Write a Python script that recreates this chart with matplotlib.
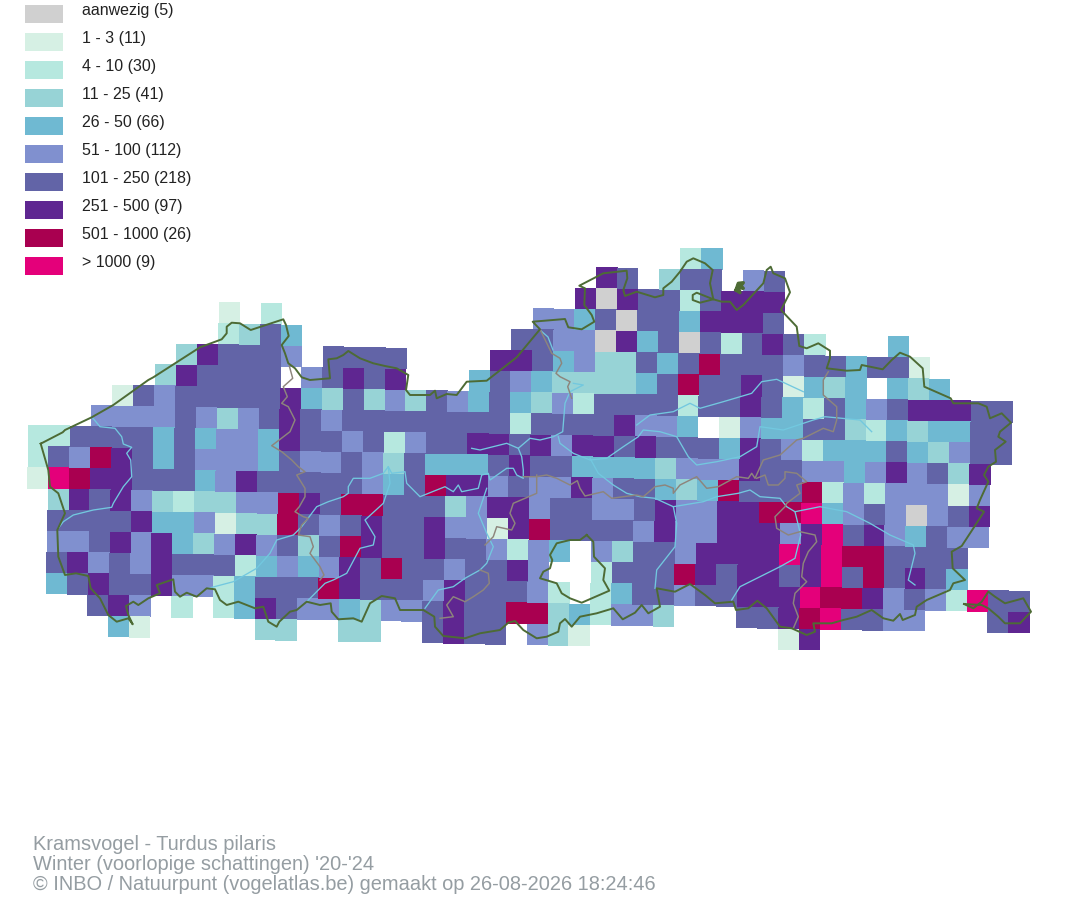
"""Kramsvogel winter atlas map: km-square abundance classes with Flanders outlines."""

import matplotlib

matplotlib.use("Agg")
import matplotlib.pyplot as plt
import numpy as np
from matplotlib.colors import BoundaryNorm, ListedColormap
from matplotlib.patches import Rectangle

plt.rcParams["font.family"] = ["Liberation Sans", "DejaVu Sans"]

CLASS_LABELS = [
    "aanwezig (5)", "1 - 3 (11)", "4 - 10 (30)", "11 - 25 (41)", "26 - 50 (66)",
    "51 - 100 (112)", "101 - 250 (218)", "251 - 500 (97)", "501 - 1000 (26)", "> 1000 (9)",
]
CLASS_COLORS = [
    "#d0d0d0", "#d6f0e4", "#b6e8df", "#97d3d6", "#6fb9d2",
    "#8090cf", "#6264a7", "#5f2691", "#a90050", "#e4007a",
]
CLASS_CODES = "a123456789"

TITLE_LINES = [
    "Kramsvogel - Turdus pilaris",
    "Winter (voorlopige schattingen) '20-'24",
    "© INBO / Natuurpunt (vogelatlas.be) gemaakt op 26-08-2026 18:24:46",
]

# one row per grid line: (first column, class codes), "." = no data
GRID_ROWS = [
    (31, "24"),
    (27, "76.366.56"),
    (26, "7a76626777"),
    (9, "1.2" + "............" + "5546a66" + "47776"),
    (9, "2364" + ".........." + "6655a746a" + "626762" + "..." + "4"),
    (7, "376665.6666" + "...." + "7764533646" + "8666566466" + "1"),
    (6, "376666.56767" + "..." + "4654" + "3333" + "468" + "667" + "6" + "1434" + ".434"),
    (4, "165" + "66666" + "7436" + "35365464352" + "6666" + "2667" + "6426456" + "777" + "66"),
    (3, "5555" + "65356765" + "66666666" + "2" + "6666" + "7" + "55" + "4" + ".1" + "5" + "44" + "66" + "32" + "43" + "44" + "66"),
    (0, "22" + "6666" + "4645547" + "66" + "5625" + "66" + "77" + "675" + "77" + "67" + "666" + "47652" + "444" + "6435" + "66"),
    (0, "26587646" + "555" + "46" + "55" + "6536" + "444" + "67" + "66" + "4444" + "3" + "555" + "7" + "66" + "55" + "45" + "75" + "637"),
    (0, "19877" + "666" + "457" + "66666" + "546" + "8775" + "6557" + "5664" + "348" + "666" + "8252" + "555" + "15"),
    (1, "3767" + "5323" + "3558" + "768" + "8" + "666" + "357" + "7566" + "5567" + "5577" + "889" + "4565" + "a567"),
    (1, "6666" + "7445" + "1338" + "6567" + "667" + "551" + "78" + "6666" + "57" + "55" + "777" + "5796" + "7546" + "55"),
    (1, "5567" + "5743" + "5756" + "36" + "87" + "667" + "665" + "254" + ".53" + "66" + "5" + "7777" + "9798" + "8" + "666" + "6"),
    (1, "6756" + "57" + "666" + "2454" + "576" + "86" + "65" + "667" + "5" + ".." + "26" + "668" + "76" + "776" + "796" + "867" + "64"),
    (1, "4676" + "6755" + "24" + "666" + "87" + "666" + "57" + "666" + "52" + "." + "24" + "66" + "566" + "777" + "988" + "7565" + "29" + "66"),
    (3, "675.2.247655" + "43" + "5567" + "66" + "88" + "342" + "553" + "..." + "66" + "789" + "66" + "55" + "..." + "67"),
    (4, "41" + "....." + "33" + ".." + "33" + ".." + "6766.531" + "........." + "17"),
]

GREEN_MAIN = [
    (40.7, 443.7), (62.7, 432.3), (65, 430), (91.7, 417.3), (113.3, 405), (148.3, 380), (153.3, 377.3),
    (200, 347.3), (221.7, 339.3), (226.7, 333.3), (226.7, 326.7), (231.7, 322.7), (240, 323.3), (250.7, 330),
    (283.3, 319.3), (286, 325), (288.7, 336), (281.7, 345), (285, 353.3), (288.3, 363.3), (295, 368.3),
    (301.7, 377.3), (310, 380), (330, 378.3), (328.3, 359.3), (336.7, 358.3), (343.3, 355), (348.3, 351),
    (360, 358.3), (373.3, 363.3), (385, 366), (396.7, 368.3), (408.3, 375), (406, 390), (410, 395), (430, 395),
    (435, 390.7), (436.7, 398.3), (446.7, 394), (456.7, 395), (466.7, 381.7), (486.7, 380.7), (516.7, 357.3),
    (540, 329.3), (532.7, 321.7), (565, 319), (568.3, 327.3), (581.7, 329.3), (594.3, 321.7), (591.7, 315),
    (584.3, 305), (585, 288.3), (579.3, 285.7), (603.3, 273.3), (626.7, 270.7), (627.3, 278.3), (623.3, 290),
    (625, 296), (636.7, 291.7), (655, 297.3), (663.3, 295), (663.3, 288.3), (671.7, 281.7), (680, 271.7),
    (686.7, 261.7), (693.3, 258.3), (705, 263.3), (712.7, 270), (710, 283.3), (713.3, 299.3), (700, 302.7),
    (692.7, 300), (692.7, 295), (696.7, 292.7), (713.3, 299.3), (721.7, 301.7), (730, 301.7), (736.7, 310),
    (743.3, 305), (763.3, 283.3), (766.7, 270), (770.7, 266.7), (773.3, 273.3), (785, 278.3), (790, 292.3),
    (781, 310), (796.7, 326.7), (799.3, 346), (806.7, 348.3), (818.3, 343.3), (830, 350.7), (830, 358.3),
    (826.7, 368.3), (846.7, 370.7), (860, 370), (861.7, 365), (882.7, 369.3), (891.7, 360), (900, 352.7),
    (910, 356.7), (922.7, 368.3), (924.3, 386.7), (950.7, 398.3), (953.3, 403.3), (978.3, 403.3), (986.7, 406.7),
    (990, 418.3), (1001.7, 413.3), (1011, 422.7), (1000, 431.7), (998.3, 436.7), (1005.7, 441.7), (995, 450),
    (996, 461.7), (988.3, 466.7), (984, 475), (988.3, 481.7), (980, 500), (976.7, 508.3), (984, 511.7),
    (973.3, 528.3), (961.7, 546), (951.7, 551.7), (952.7, 568.3), (965, 580), (953.3, 583.3), (950, 590),
    (926.7, 600), (916.7, 606.7), (915, 615), (902.7, 620), (900, 614), (893.3, 620.7), (883.3, 618.3),
    (871.7, 610), (856.7, 616.7), (843.3, 620), (831.7, 623.3), (813.3, 623.3), (815, 631.7), (806.7, 635),
    (791.7, 628.3), (780, 626.7), (766.7, 608.3), (757.3, 600.7), (748.3, 608.3), (736, 610), (733.3, 601.7),
    (715, 603.3), (705, 595), (690, 584), (675, 591.7), (656.7, 588.3), (660, 606.7), (648.3, 613.3),
    (641.7, 605), (635, 612.7), (622.7, 619.3), (613.3, 608.3), (596.7, 613.3), (580, 616.7), (571.7, 626.7),
    (565, 619), (560, 623.3), (558.3, 631.7), (546.7, 636.7), (536.7, 638.3), (523.3, 630), (515, 621),
    (508.3, 622.7), (500, 630), (480, 633.3), (465, 638.3), (443.3, 636), (435, 626.7), (434.3, 616.7),
    (423.3, 610), (400, 610), (395, 598.3), (381.7, 596), (370, 603.3), (361.7, 621.7), (353.3, 618.3),
    (338.3, 619.3), (331.7, 611.7), (330.7, 603.3), (320, 605), (306.7, 601.7), (296.7, 610), (290, 611.7),
    (279.3, 621.7), (276.7, 626.7), (268.3, 621.7), (263.3, 606.7), (255, 608.3), (238.3, 601.7), (226.7, 605),
    (220, 600), (215, 589.3), (206.7, 588.3), (196.7, 596.7), (186.7, 592.7), (180, 596.7), (175, 591.7),
    (173.3, 579.3), (156.7, 585), (160, 593.3), (148.3, 598.3), (138.3, 605), (133.3, 601.7), (126, 606),
    (128.3, 615), (132.7, 624.3), (128.3, 618.3), (116.7, 621.7), (108.3, 615), (100, 598.3), (90.7, 588.3),
    (88.3, 576), (76, 573.3), (65, 575), (58.3, 556.7), (57.3, 530), (65, 513.3), (58.3, 493.3), (50, 486.7),
    (48.3, 470), (40.7, 443.7),
]
GREEN_BRUSSELS = [
    (586.7, 535), (593.3, 541.7), (594, 556.7), (605, 568.3), (603.3, 580), (609.3, 590.7), (581.7, 602.7),
    (570, 598.3), (561.7, 593.3), (556.7, 583.3), (548.3, 580.7), (540, 578.3), (543.3, 571.7), (550, 568.3),
    (552.3, 560), (550, 555), (556.7, 543.3), (570, 540), (580, 540), (586.7, 535),
]
GREEN_VOEREN = [
    (964, 604), (973.3, 608.3), (981.7, 601.7), (988.3, 591.7), (995, 596.7), (1005, 603.3), (1023.3, 598.3),
    (1031, 611.7), (1020, 623.3), (1005, 623.3), (998.3, 616.7), (988.3, 608.3), (981.7, 605), (964, 604),
]
GREEN_BAARLE = [(736, 290), (738.3, 283.3), (743.3, 282.7), (740, 287), (743.3, 288.3), (738, 286), (740, 292.7), (736, 290)]

PROVINCE_LINES = [
    [(289.3, 366), (292.7, 378.3), (283.3, 386.7), (287.3, 396.7), (281.7, 403.3), (288.3, 406.7), (295, 420),
     (290, 431.7), (271.7, 445.7), (281.7, 451.7), (291.7, 460), (298.3, 466.7), (305, 471.7), (296.7, 475),
     (305, 488.3), (305, 496.7), (299.3, 506.7), (295, 511.7), (303.3, 516.7), (308.3, 518.3), (301.7, 525),
     (298.3, 535), (310, 536.7), (313.3, 546.7), (310, 553.3), (320, 566.7), (324, 575), (320, 580)],
    [(540, 329.3), (551.7, 353.3), (560, 358.3), (561.7, 363.3), (556, 373.3), (560, 376.7), (570, 381.7),
     (567.7, 386.7), (571.7, 398.3)],
    [(523.3, 476.7), (536.7, 476.7), (546.7, 475), (556.7, 478.3), (570, 485), (577.3, 480.7), (580, 488.3),
     (585, 496), (603.3, 491.7), (611.7, 498.3), (623.3, 496.7), (636.7, 495), (643.3, 496.7), (655, 486.7),
     (665, 485), (673.3, 488.3), (673.3, 493.3), (680, 485), (696.7, 476.7), (706.7, 488.3), (718.3, 486.7),
     (736.7, 476.7), (748.3, 478.3), (751.7, 473.3), (755, 478.3), (763.3, 460), (780, 455), (796.7, 440),
     (803.3, 438.3), (823.3, 428.3), (833.3, 431.7), (836.7, 420), (836.7, 406.7), (823.3, 395), (823.3, 380),
     (828.3, 371.7)],
    [(536.7, 475), (536.7, 493.3), (513.3, 503.3), (510, 513.3), (515, 523.3), (511.7, 530), (496.7, 526.7),
     (493.3, 536.7), (490, 540), (485, 545)],
    [(480, 570), (488.3, 573.3), (489.3, 583.3), (483.3, 590), (473.3, 596.7), (465, 601.7), (453.3, 596.7),
     (446.7, 605), (453.3, 616.7), (440, 618.3)],
    [(756.7, 478.3), (765, 475), (768.3, 485), (778.3, 485), (785, 478.3), (785, 471.7), (796.7, 473.3),
     (806.7, 481.7), (796.7, 485), (800, 493.3), (786.7, 503.3), (785, 506.7), (775, 516.7), (776.7, 528.3),
     (788.3, 535), (800, 531.7), (815, 535), (816.7, 541.7), (808.3, 551.7), (803.3, 563.3), (801.7, 576.7),
     (806.7, 581.7), (795, 593.3), (793.3, 603.3), (798.3, 616.7), (793.3, 628.3)],
]

RIVER_LINES = [
    [(91.7, 416.7), (100, 426.7), (115, 428.3), (121.7, 436.7), (123.3, 444), (131.7, 447.3), (126.7, 453.3),
     (130.7, 460), (131.7, 476.7), (123.3, 486.7), (113.3, 503.3), (111.7, 507.3), (93.3, 510), (73.3, 515),
     (63.3, 521.7), (58.3, 528.3)],
    [(208.3, 588.3), (233.3, 581.7), (256.7, 568.3), (270, 553.3), (276.7, 540), (293.3, 535), (301.7, 526.7),
     (316.7, 506.7), (328.3, 501.7), (343.3, 496.7), (348.3, 493.3), (348.3, 486.7), (353.3, 478.3), (363.3, 478.3),
     (370, 478.3), (383.3, 473.3), (388.3, 466.7), (391.7, 473.3), (405, 471.7), (406.7, 483.3), (420, 496.7),
     (445, 486.7), (453.3, 491.7), (458.3, 485), (461.7, 491.7), (478.3, 488.3), (481.7, 475), (488.3, 473.3),
     (490, 480), (506.7, 468.3), (513.3, 468.3), (516.7, 475), (523.3, 478.3), (523.3, 470), (521.7, 456.7),
     (518.3, 448.3), (530, 438.3), (540, 440), (553.3, 436.7), (562.7, 431.7), (565, 403.3), (570, 391.7),
     (583.3, 385), (573.3, 383.3)],
    [(471.7, 448.3), (480, 450), (506.7, 443.3), (518.3, 448.3)],
    [(388.3, 466.7), (390, 483.3), (383.3, 503.3), (365, 520), (375, 536.7), (373.3, 545), (360, 548.3),
     (346.7, 573.3), (333.3, 580), (325, 583.3), (306.7, 601.7)],
    [(486.7, 488.3), (478.3, 513.3), (486.7, 533.3), (493.3, 546.7), (486.7, 563.3), (480, 570), (465, 578.3),
     (453.3, 586.7), (438.3, 590), (425, 608.3)],
    [(558.3, 436.7), (560, 443.3), (573.3, 453.3), (590, 460), (606.7, 458.3), (623.3, 446.7), (638.3, 436.7),
     (643.3, 430), (660, 431.7), (676.7, 436.7), (688.3, 456.7), (696.7, 465), (716.7, 461.7), (740, 456.7),
     (756.7, 446.7), (760, 426.7), (783.3, 430), (813.3, 420), (825, 416.7), (860, 420), (871.7, 431.7)],
    [(636.7, 425), (650, 415), (673.3, 411.7), (680, 408.3), (690, 403.3), (700, 408.3), (723.3, 401.7),
     (751.7, 393.3), (761.7, 381.7), (776.7, 379.3), (803.3, 391.7)],
    [(540, 330), (548, 337), (553, 350)],
    [(590, 458.3), (598.3, 473.3), (613.3, 485), (626.7, 493.3), (640, 496.7), (655, 498.3), (673.3, 506.7),
     (703.3, 501.7), (716.7, 496.7), (738.3, 493.3), (750, 490), (760, 496.7), (780, 498.3), (786.7, 506.7),
     (795, 511.7), (820, 506.7), (846.7, 511.7), (870, 523.3), (890, 535), (913.3, 545), (915, 553.3),
     (910, 573.3), (908.3, 580), (915, 585)],
    [(673.3, 506.7), (676.7, 523.3), (675, 546.7), (656.7, 570), (655, 588.3)],
    [(795, 511.7), (800.7, 535), (795, 558.3), (780, 566.7), (760, 576.7), (740, 586.7), (731.7, 600)],
]

# tilted map grid
ORIGIN_X, ORIGIN_Y = 31.9, 235.66
COL_DX, COL_DY = 20.93, 0.395
ROW_DX, ROW_DY = -0.4, 21.04
N_COLS = 48


def build_grid() -> np.ma.MaskedArray:
    grid = np.full((len(GRID_ROWS), N_COLS), -1, dtype=int)
    for r, (first, codes) in enumerate(GRID_ROWS):
        for c, code in enumerate(codes, start=first):
            if code != ".":
                grid[r, c] = CLASS_CODES.index(code)
    return np.ma.masked_less(grid, 0)


def draw_lines(ax, lines, color, lw, zorder):
    for line in lines:
        xs, ys = zip(*line)
        ax.plot(xs, ys, color=color, linewidth=lw, zorder=zorder, solid_joinstyle="round")


fig = plt.figure(figsize=(10.74, 9), dpi=100)
ax = fig.add_axes([0, 0, 1, 1])
ax.set_xlim(0, 1074)
ax.set_ylim(900, 0)
ax.axis("off")

grid = build_grid()
cols, rows = np.meshgrid(np.arange(N_COLS + 1), np.arange(len(GRID_ROWS) + 1))
mesh_x = ORIGIN_X + COL_DX * cols + ROW_DX * rows
mesh_y = ORIGIN_Y + COL_DY * cols + ROW_DY * rows
cmap = ListedColormap(CLASS_COLORS)
norm = BoundaryNorm(np.arange(len(CLASS_COLORS) + 1) - 0.5, cmap.N)
ax.pcolormesh(mesh_x, mesh_y, grid, cmap=cmap, norm=norm, antialiased=False)

draw_lines(ax, RIVER_LINES, "#72c8df", 0.95, 3)
draw_lines(ax, PROVINCE_LINES, "#8d857c", 1.05, 4)
draw_lines(ax, [GREEN_MAIN, GREEN_BRUSSELS, GREEN_VOEREN], "#4d6b35", 1.4, 5)
draw_lines(ax, [GREEN_BAARLE], "#4d6b35", 2.4, 5)

# legend, laid out by hand: the labels sit above the swatch centres
for i, (color, label) in enumerate(zip(CLASS_COLORS, CLASS_LABELS)):
    ax.add_patch(Rectangle((25, 5 + 28 * i), 38, 18, facecolor=color, edgecolor="none"))
    ax.text(82, 15 + 28 * i, label, color="#222222", fontsize=11.5, va="baseline", ha="left")

for y, line in zip([844, 864.5, 885], TITLE_LINES):
    ax.text(33, y, line, color="#959da2", fontsize=14.4, va="center", ha="left")

fig.savefig("out.png", dpi=100)
plt.close(fig)
